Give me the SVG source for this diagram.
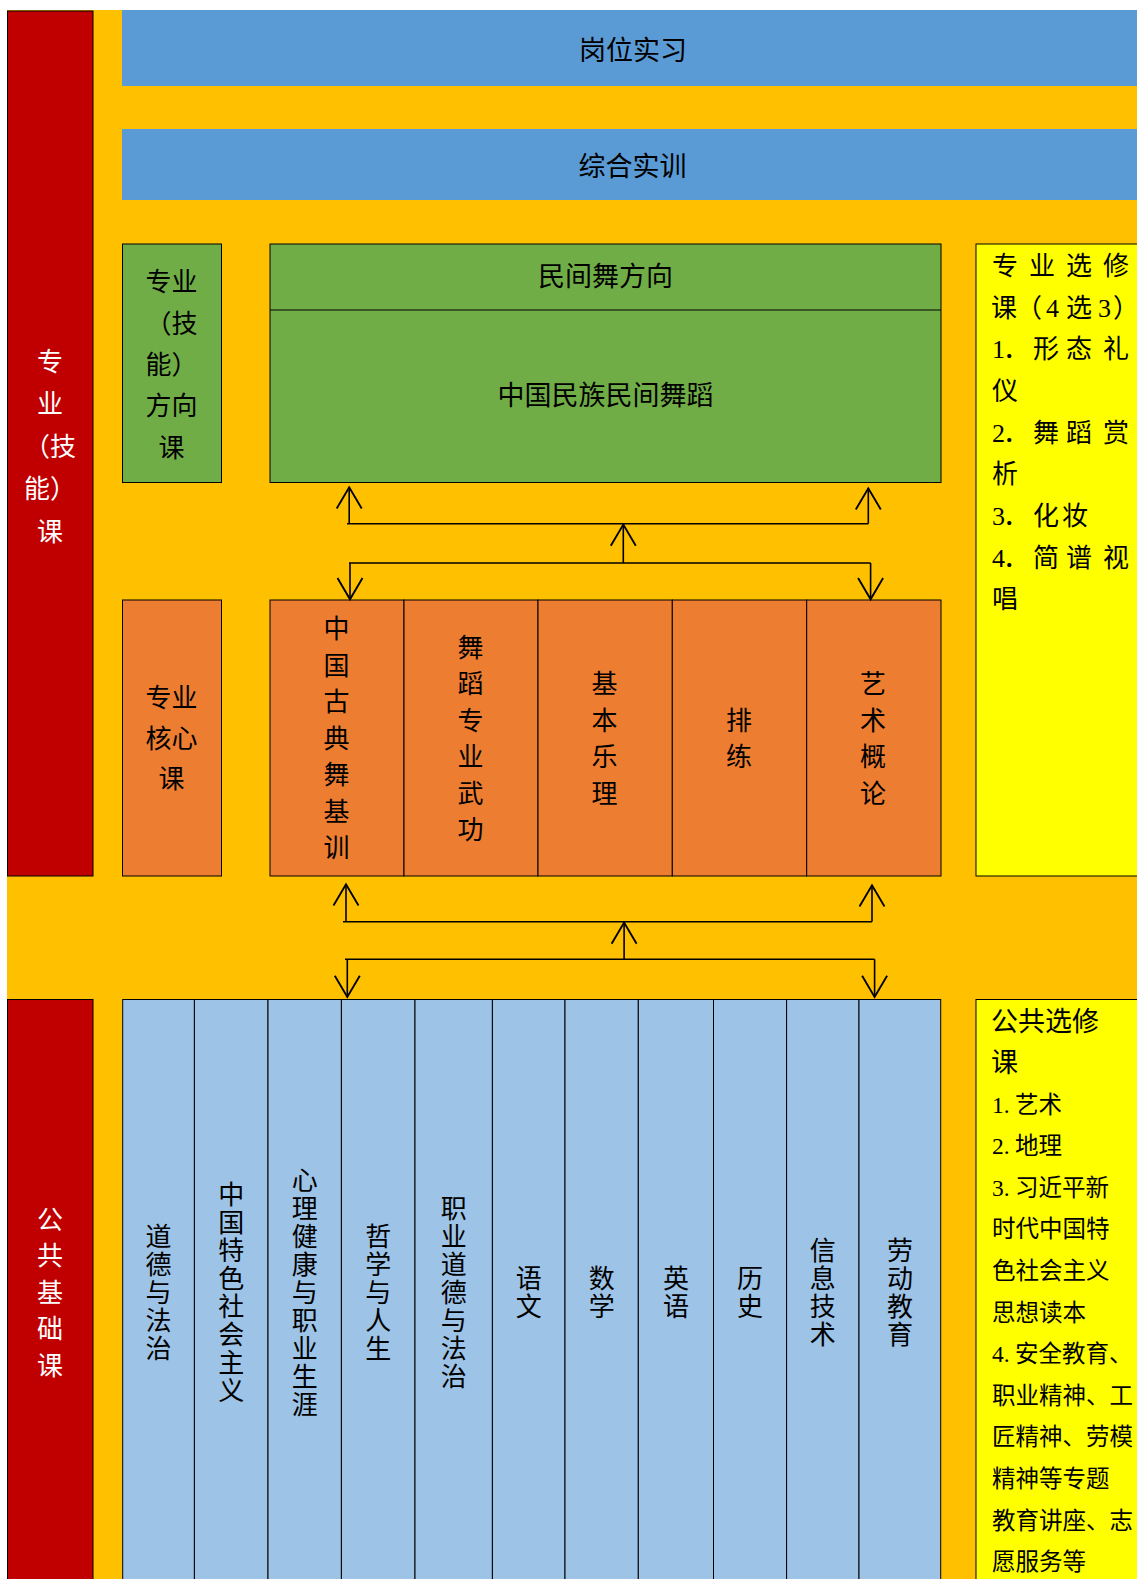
<svg xmlns="http://www.w3.org/2000/svg" width="1137" height="1579" viewBox="0 0 1137 1579">
<style>
text{font-family:"Noto Sans CJK SC","Noto Sans",sans-serif;fill:#000}
.t26{font-size:26px}
.t27{font-size:27px}
.t23{font-size:23.5px}
.w{fill:#fff}
.mid{text-anchor:middle}
.vt{writing-mode:vertical-rl;text-anchor:middle;font-size:26px;letter-spacing:2px}
.ser{font-family:"Liberation Serif","Noto Sans CJK SC",serif}
.box{stroke:#000;stroke-width:1}
.red{fill:#C00000}
.bar{fill:#5B9BD5}
.grn{fill:#70AD47}
.org{fill:#ED7D31}
.lb{fill:#9DC3E6}
.yel{fill:#FFFF00}
.conn{fill:none;stroke:#000;stroke-width:1.6}
</style>
<defs>
<marker id="arr" markerUnits="userSpaceOnUse" markerWidth="30" markerHeight="30" viewBox="-20 -12 24 24" refX="0" refY="0" orient="auto" overflow="visible">
<path d="M-17,-10 L0,0 L-17,10" fill="none" stroke="#000" stroke-width="1.5"/>
</marker>
</defs>
<rect x="7" y="10" width="1135" height="1575" fill="#FFC000"/>

<g id="zhuanye-jineng-ke">
<rect class="red box" x="7.5" y="11" width="85.5" height="865"/>
<text class="t26 w mid" x="50" y="370.9"><tspan x="50">专</tspan><tspan x="50" dy="42.5">业</tspan><tspan x="50" dy="42.5">（技</tspan><tspan x="50" dy="42.5">能）</tspan><tspan x="50" dy="42.5">课</tspan></text>
</g>

<g id="gonggong-jichu-ke">
<rect class="red box" x="7.5" y="999.5" width="85.5" height="600"/>
<text class="t26 w mid" x="50" y="1228.5"><tspan x="50">公</tspan><tspan x="50" dy="36.5">共</tspan><tspan x="50" dy="36.5">基</tspan><tspan x="50" dy="36.5">础</tspan><tspan x="50" dy="36.5">课</tspan></text>
</g>

<g id="gangwei-shixi">
<rect class="bar" x="122" y="10" width="1020" height="76"/>
<text class="t27 mid" x="633" y="60.3">岗位实习</text>
</g>

<g id="zonghe-shixun">
<rect class="bar" x="122" y="129" width="1020" height="71"/>
<text class="t27 mid" x="632.5" y="175.8">综合实训</text>
</g>

<g id="fangxiang-ke">
<rect class="grn box" x="122.5" y="244" width="99" height="238.5"/>
<text class="t26 mid" x="171.5" y="291.4"><tspan x="171.5">专业</tspan><tspan x="171.5" dy="41.3">（技</tspan><tspan x="171.5" dy="41.3">能）</tspan><tspan x="171.5" dy="41.3">方向</tspan><tspan x="171.5" dy="41.3">课</tspan></text>
</g>

<g id="minjianwu-fangxiang">
<rect class="grn box" x="270" y="244" width="671" height="238.5"/>
<line class="box" x1="270" y1="310" x2="941" y2="310"/>
<text class="t27 mid" x="605.5" y="286.3">民间舞方向</text>
<text class="t27 mid" x="605.5" y="405">中国民族民间舞蹈</text>
</g>

<g id="zhuanye-xuanxiu-ke">
<rect class="yel box" x="976" y="244" width="170" height="632"/>
<text class="t26" x="992 1029 1066 1103" y="274.9">专业选修</text>
<text class="t26" y="316.6"><tspan x="991">课</tspan><tspan x="1016">（</tspan><tspan class="ser" x="1046">4</tspan><tspan x="1066">选</tspan><tspan class="ser" x="1098">3</tspan><tspan x="1113">）</tspan></text>
<text class="t26" y="358.2"><tspan class="ser" x="992">1</tspan><tspan x="1003">．</tspan><tspan x="1033 1066 1103">形态礼</tspan></text>
<text class="t26" x="992" y="399.9">仪</text>
<text class="t26" y="441.5"><tspan class="ser" x="992">2</tspan><tspan x="1003">．</tspan><tspan x="1033 1066 1103">舞蹈赏</tspan></text>
<text class="t26" x="992" y="483.2">析</text>
<text class="t26" y="524.8"><tspan class="ser" x="992">3</tspan><tspan x="1003">．</tspan><tspan x="1033 1062">化妆</tspan></text>
<text class="t26" y="566.5"><tspan class="ser" x="992">4</tspan><tspan x="1003">．</tspan><tspan x="1033 1066 1103">简谱视</tspan></text>
<text class="t26" x="992" y="608.1">唱</text>
</g>

<g id="hexin-ke">
<rect class="org box" x="122.5" y="600" width="99" height="276"/>
<text class="t26 mid" x="171.5" y="706.9"><tspan x="171.5">专业</tspan><tspan x="171.5" dy="40.75">核心</tspan><tspan x="171.5" dy="40.75">课</tspan></text>
</g>

<g id="hexin-kecheng">
<rect class="org box" x="270" y="600" width="134" height="276"/>
<rect class="org box" x="404" y="600" width="134" height="276"/>
<rect class="org box" x="538" y="600" width="134.3" height="276"/>
<rect class="org box" x="672.3" y="600" width="134.4" height="276"/>
<rect class="org box" x="806.7" y="600" width="134.3" height="276"/>
<text class="t26 mid" y="638.4"><tspan x="336.5">中</tspan><tspan x="336.5" dy="36.5">国</tspan><tspan x="336.5" dy="36.5">古</tspan><tspan x="336.5" dy="36.5">典</tspan><tspan x="336.5" dy="36.5">舞</tspan><tspan x="336.5" dy="36.5">基</tspan><tspan x="336.5" dy="36.5">训</tspan></text>
<text class="t26 mid" y="656.6"><tspan x="470.5">舞</tspan><tspan x="470.5" dy="36.5">蹈</tspan><tspan x="470.5" dy="36.5">专</tspan><tspan x="470.5" dy="36.5">业</tspan><tspan x="470.5" dy="36.5">武</tspan><tspan x="470.5" dy="36.5">功</tspan></text>
<text class="t26 mid" y="693.1"><tspan x="604.5">基</tspan><tspan x="604.5" dy="36.5">本</tspan><tspan x="604.5" dy="36.5">乐</tspan><tspan x="604.5" dy="36.5">理</tspan></text>
<text class="t26 mid" y="729.6"><tspan x="739">排</tspan><tspan x="739" dy="36.5">练</tspan></text>
<text class="t26 mid" y="693.1"><tspan x="873">艺</tspan><tspan x="873" dy="36.5">术</tspan><tspan x="873" dy="36.5">概</tspan><tspan x="873" dy="36.5">论</tspan></text>
</g>

<g id="gonggong-kecheng">
<rect class="lb box" x="122.7" y="999.5" width="71.7" height="600"/>
<rect class="lb box" x="194.4" y="999.5" width="73.6" height="600"/>
<rect class="lb box" x="268" y="999.5" width="73.4" height="600"/>
<rect class="lb box" x="341.4" y="999.5" width="73.6" height="600"/>
<rect class="lb box" x="415" y="999.5" width="77.4" height="600"/>
<rect class="lb box" x="492.4" y="999.5" width="72.6" height="600"/>
<rect class="lb box" x="565" y="999.5" width="73.3" height="600"/>
<rect class="lb box" x="638.3" y="999.5" width="75.2" height="600"/>
<rect class="lb box" x="713.5" y="999.5" width="73.1" height="600"/>
<rect class="lb box" x="786.6" y="999.5" width="72.4" height="600"/>
<rect class="lb box" x="859" y="999.5" width="81.7" height="600"/>
<text class="vt" x="158.6" y="1293.5">道德与法治</text>
<text class="vt" x="231.2" y="1293.5">中国特色社会主义</text>
<text class="vt" x="304.7" y="1293.5">心理健康与职业生涯</text>
<text class="vt" x="378.2" y="1293.5">哲学与人生</text>
<text class="vt" x="453.7" y="1293.5">职业道德与法治</text>
<text class="vt" x="528.7" y="1293.5">语文</text>
<text class="vt" x="601.7" y="1293.5">数学</text>
<text class="vt" x="676" y="1293.5">英语</text>
<text class="vt" x="750" y="1293.5">历史</text>
<text class="vt" x="822.8" y="1293.5">信息技术</text>
<text class="vt" x="900" y="1293.5">劳动教育</text>
</g>

<g id="gonggong-xuanxiu-ke">
<rect class="yel box" x="976" y="999.5" width="170" height="600"/>
<text class="t27" x="991" y="1030.8">公共选修</text>
<text class="t27" x="991" y="1072.4">课</text>
<text class="t23" y="1112.6"><tspan class="ser" x="992">1.</tspan><tspan x="1015">艺术</tspan></text>
<text class="t23" y="1154.2"><tspan class="ser" x="992">2.</tspan><tspan x="1015">地理</tspan></text>
<text class="t23" y="1195.8"><tspan class="ser" x="992">3.</tspan><tspan x="1015">习近平新</tspan></text>
<text class="t23" x="992" y="1237.4">时代中国特</text>
<text class="t23" x="992" y="1279">色社会主义</text>
<text class="t23" x="992" y="1320.6">思想读本</text>
<text class="t23" y="1362.2"><tspan class="ser" x="992">4.</tspan><tspan x="1015">安全教育、</tspan></text>
<text class="t23" x="992" y="1403.8">职业精神、工</text>
<text class="t23" x="992" y="1445.4">匠精神、劳模</text>
<text class="t23" x="992" y="1487">精神等专题</text>
<text class="t23" x="992" y="1528.6">教育讲座、志</text>
<text class="t23" x="992" y="1570.2">愿服务等</text>
</g>

<g id="connectors">
<path class="conn" d="M347,523.7 H868.3"/>
<path class="conn" d="M349.2,523.7 V487.3" marker-end="url(#arr)"/>
<path class="conn" d="M868.3,523.7 V488.3" marker-end="url(#arr)"/>
<path class="conn" d="M623.3,563 V524.5" marker-end="url(#arr)"/>
<path class="conn" d="M349,563 H870.6"/>
<path class="conn" d="M350,563 V599.3" marker-end="url(#arr)"/>
<path class="conn" d="M870.6,563 V599.3" marker-end="url(#arr)"/>
<path class="conn" d="M343,921.7 H872"/>
<path class="conn" d="M346,921.7 V884.3" marker-end="url(#arr)"/>
<path class="conn" d="M872,921.7 V885.3" marker-end="url(#arr)"/>
<path class="conn" d="M624.1,959.3 V922.5" marker-end="url(#arr)"/>
<path class="conn" d="M345,959.3 H874.6"/>
<path class="conn" d="M347.3,959.3 V997" marker-end="url(#arr)"/>
<path class="conn" d="M874.6,959.3 V997" marker-end="url(#arr)"/>
</g>
</svg>
